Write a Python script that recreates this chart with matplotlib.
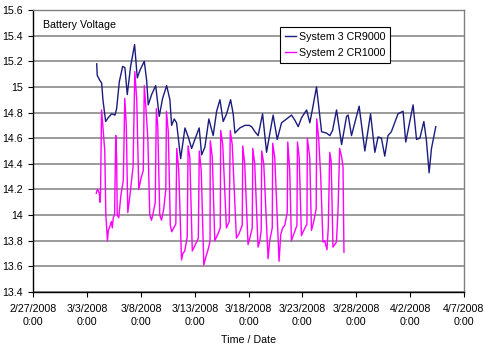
import matplotlib
matplotlib.use("Agg")
import matplotlib.pyplot as plt
import pandas as pd

# Logger battery voltage, time given as days since 2/27/2008 0:00
start = pd.Timestamp("2008-02-27")

cr9000_days = [5.89, 5.94, 6.19, 6.35, 6.47, 6.72, 6.96, 7.28, 7.59, 7.74,
               7.99, 8.30, 8.51, 8.73, 9.04, 9.41, 9.66, 9.91, 10.31, 10.53,
               10.68, 10.99, 11.37, 11.70, 12.01, 12.39, 12.69, 12.85, 13.09, 13.31,
               13.69, 14.09, 14.39, 14.71, 15.01, 15.41, 15.64, 15.94, 16.31, 16.71,
               17.03, 17.34, 17.64, 17.96, 18.33, 18.57, 18.73, 19.19, 19.66, 20.06,
               20.28, 20.59, 20.89, 21.30, 21.67, 21.98, 22.28, 22.66, 23.06, 23.53,
               23.99, 24.30, 24.61, 24.92, 25.39, 25.69, 25.94, 26.31, 26.62, 26.78,
               27.24, 27.55, 27.80, 28.17, 28.64, 29.10, 29.25, 29.56, 29.96, 30.27,
               30.80, 31.33, 31.73, 32.03, 32.34, 32.65, 32.95, 33.26, 33.57, 33.88,
               34.35, 34.60, 35.28, 35.60, 35.91, 36.28, 36.51, 36.77, 36.99, 37.39]
cr9000_volts = [15.18, 15.09, 15.05, 15.03, 14.90, 14.73, 14.76, 14.79, 14.78, 14.83,
                15.04, 15.16, 15.15, 14.94, 15.16, 15.33, 15.07, 15.13, 15.20, 15.05,
                14.86, 14.94, 15.01, 14.77, 14.91, 15.01, 14.90, 14.70, 14.75, 14.72,
                14.44, 14.68, 14.61, 14.52, 14.59, 14.68, 14.47, 14.53, 14.75, 14.62,
                14.81, 14.90, 14.73, 14.79, 14.90, 14.79, 14.64, 14.68, 14.70, 14.70,
                14.69, 14.65, 14.62, 14.79, 14.49, 14.64, 14.78, 14.59, 14.72, 14.75,
                14.78, 14.74, 14.69, 14.76, 14.82, 14.72, 14.83, 15.00, 14.77, 14.65,
                14.64, 14.62, 14.66, 14.82, 14.55, 14.77, 14.78, 14.62, 14.75, 14.85,
                14.50, 14.79, 14.49, 14.61, 14.60, 14.46, 14.62, 14.65, 14.72, 14.79,
                14.81, 14.57, 14.86, 14.59, 14.60, 14.73, 14.59, 14.33, 14.52, 14.69]

cr1000_days = [5.85, 5.95, 6.04, 6.13, 6.20, 6.25, 6.34, 6.46, 6.64, 6.74,
               6.89, 6.97, 7.11, 7.25, 7.34, 7.43, 7.55, 7.66, 7.74, 7.80,
               7.94, 8.13, 8.36, 8.50, 8.64, 8.78, 8.96, 9.27, 9.43, 9.61,
               9.80, 9.99, 10.22, 10.31, 10.45, 10.64, 10.82, 10.98, 11.10, 11.33,
               11.43, 11.56, 11.75, 11.91, 12.12, 12.31, 12.37, 12.54, 12.73, 12.86,
               13.05, 13.24, 13.33, 13.51, 13.77, 13.89, 14.07, 14.30, 14.38, 14.54,
               14.77, 15.00, 15.33, 15.42, 15.60, 15.84, 16.02, 16.30, 16.42, 16.44,
               16.63, 16.86, 17.14, 17.37, 17.41, 17.60, 17.94, 18.20, 18.30, 18.48,
               18.87, 19.09, 19.41, 19.46, 19.64, 19.95, 20.11, 20.34, 20.39, 20.57,
               20.88, 21.04, 21.17, 21.22, 21.41, 21.81, 21.96, 22.20, 22.24, 22.43,
               22.83, 22.99, 23.17, 23.36, 23.59, 23.64, 23.82, 23.98, 24.19, 24.49,
               24.54, 24.70, 24.91, 25.12, 25.42, 25.46, 25.68, 25.84, 26.05, 26.28,
               26.33, 26.51, 26.70, 26.91, 27.07, 27.28, 27.40, 27.54, 27.67, 27.84,
               28.16, 28.31, 28.46, 28.65, 28.77, 28.86]
cr1000_volts = [14.17, 14.20, 14.19, 14.17, 14.10, 14.19, 14.82, 14.70, 14.50, 14.00,
                13.80, 13.88, 13.91, 13.95, 13.90, 13.98, 14.00, 14.62, 14.45, 14.00,
                13.98, 14.15, 14.27, 14.91, 14.70, 14.02, 14.14, 14.38, 15.12, 14.90,
                14.20, 14.28, 14.35, 15.01, 14.85, 14.60, 14.00, 13.96, 14.00, 14.10,
                14.83, 14.70, 14.00, 13.96, 14.05, 14.20, 14.81, 14.65, 13.92, 13.87,
                13.90, 13.93, 14.52, 14.35, 13.65, 13.70, 13.72, 13.83, 14.54, 14.45,
                13.72, 13.76, 13.82, 14.50, 14.35, 13.61, 13.67, 13.75, 13.80, 14.58,
                14.45, 13.80, 13.85, 13.90, 14.66, 14.55, 13.90, 13.95, 14.66, 14.55,
                13.82, 13.85, 13.92, 14.54, 14.40, 13.77, 13.82, 13.90, 14.52, 14.40,
                13.75, 13.80, 13.88, 14.50, 14.40, 13.66, 13.80, 13.90, 14.56, 14.45,
                13.64, 13.85, 13.90, 13.92, 14.02, 14.57, 14.35, 13.80, 13.85, 13.92,
                14.57, 14.45, 13.84, 13.88, 13.93, 14.60, 14.45, 13.88, 13.95, 14.05,
                14.75, 14.60, 14.30, 13.79, 13.80, 13.73, 13.90, 14.49, 14.42, 13.75,
                13.79, 14.04, 14.52, 14.45, 14.38, 13.71]

y_ticks = [13.4, 13.6, 13.8, 14.0, 14.2, 14.4, 14.6, 14.8, 15.0, 15.2, 15.4, 15.6]
x_ticks = ["2008-02-27", "2008-03-03", "2008-03-08", "2008-03-13", "2008-03-18",
           "2008-03-23", "2008-03-28", "2008-04-02", "2008-04-07"]

plt.rcParams['font.family'] = ['Liberation Sans', 'DejaVu Sans']
fs = 7.7

t9000 = start + pd.to_timedelta(cr9000_days, unit="D")
t1000 = start + pd.to_timedelta(cr1000_days, unit="D")

fig = plt.figure(figsize=(4.86, 3.47), dpi=100)
ax = fig.add_axes([0.0685, 0.1585, 0.886, 0.8127])

ax.plot(t9000, cr9000_volts, color='#1c1c80', lw=1.0, label='System 3 CR9000')
ax.plot(t1000, cr1000_volts, color='#ff00ff', lw=1.0, label='System 2 CR1000')

ax.set_ylim(13.4, 15.6)
ax.set_yticks(y_ticks)
ax.set_yticklabels([f"{v:g}" for v in y_ticks])
xt = pd.to_datetime(x_ticks)
ax.set_xlim(xt[0], xt[-1])
ax.set_xticks(xt)
ax.set_xticklabels([f"{d.month}/{d.day}/{d.year}\n0:00" for d in xt], linespacing=1.35)

ax.yaxis.grid(True, color='#808080', lw=1.1)
ax.set_axisbelow(True)
for side in ('top', 'right'):
    ax.spines[side].set_color('#808080')
    ax.spines[side].set_linewidth(1.0)
for side in ('left', 'bottom'):
    ax.spines[side].set_color('black')
    ax.spines[side].set_linewidth(1.0)
ax.tick_params(axis='both', labelsize=fs, length=3.5, width=0.8, direction='out')
ax.tick_params(axis='y', pad=4)
ax.tick_params(axis='x', pad=5)

ax.text(0.023, 0.947, 'Battery Voltage', transform=ax.transAxes, fontsize=fs,
        va='center', ha='left')
ax.set_xlabel('Time / Date', fontsize=fs, labelpad=6)

leg = ax.legend(loc='upper left', bbox_to_anchor=(0.573, 0.94), fontsize=fs,
                frameon=True, fancybox=False, edgecolor='black', framealpha=1,
                handlelength=1.0, handletextpad=0.3, borderpad=0.45, labelspacing=0.6,
                borderaxespad=0)
leg.get_frame().set_linewidth(0.8)

fig.savefig('out.png', dpi=100)
